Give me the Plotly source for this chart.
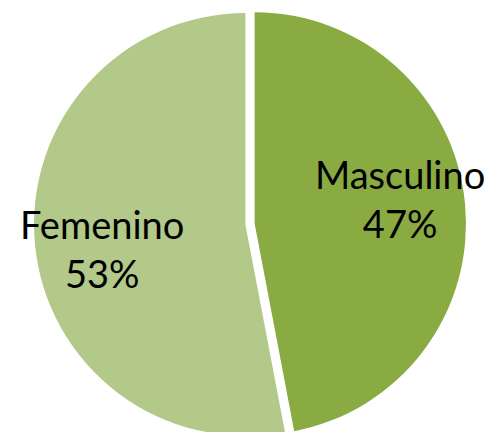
import plotly.graph_objects as go

labels = ["Masculino", "Femenino"]
values = [47, 53]
colors = ["#89ab42", "#b2c98a"]
pulls = [0.022, 0.022]

fig = go.Figure()
fig.add_trace(go.Pie(
    labels=labels,
    values=values,
    sort=False,
    direction="clockwise",
    rotation=0,
    pull=pulls,
    marker=dict(colors=colors, line=dict(width=0)),
    textinfo="none",
    hoverinfo="label+percent",
    showlegend=False,
    domain=dict(x=[26/496, 458/496], y=[0, 1]),
))

total = sum(values)
label_pos = [(0.79, 0.558), (0.19, 0.443)]
for lab, val, (ax, ay) in zip(labels, values, label_pos):
    fig.add_annotation(
        x=ax, y=ay, xref="paper", yref="paper",
        text=f"{lab}<br>{round(100*val/total)}%",
        showarrow=False,
        font=dict(family="Lato", size=38, color="#000000"),
        align="center", xanchor="center", yanchor="middle",
    )

fig.update_layout(
    width=496, height=432,
    margin=dict(l=0, r=0, t=0, b=0),
    paper_bgcolor="#ffffff",
    plot_bgcolor="#ffffff",
)
fig.write_html("out.html")
